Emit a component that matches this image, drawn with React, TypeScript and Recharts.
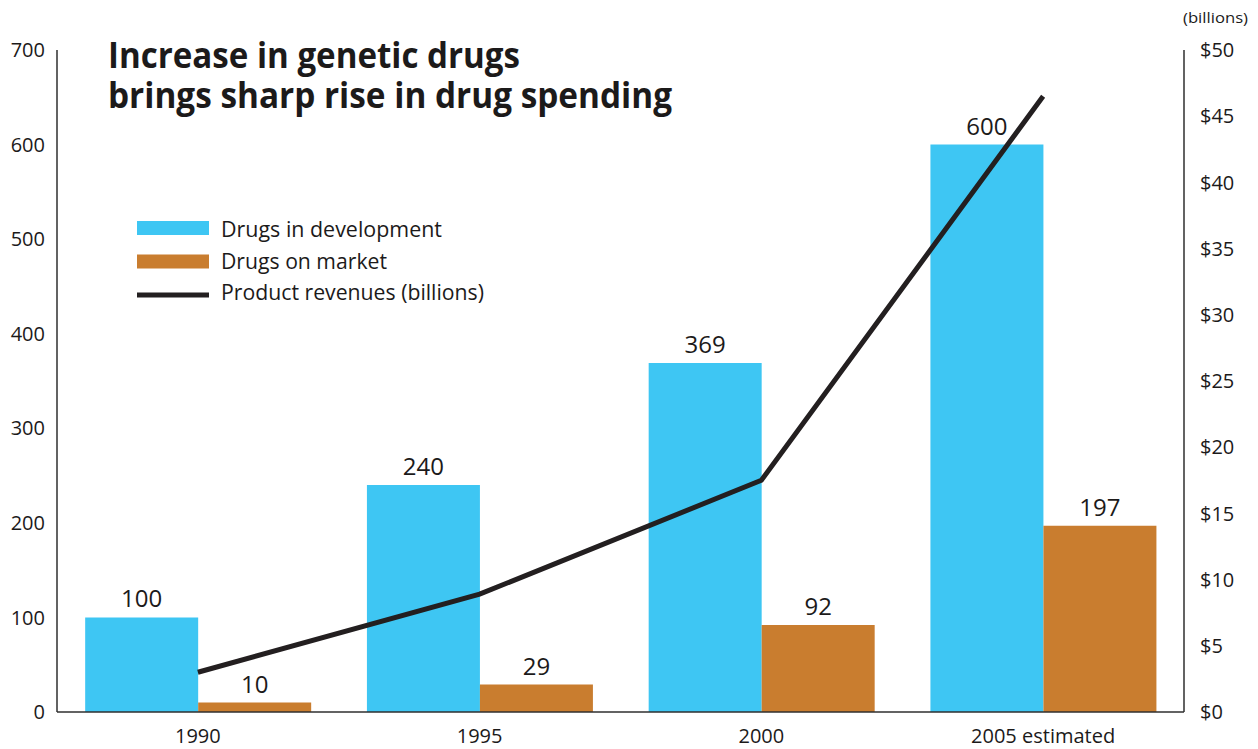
import React from 'react';
import {
  Bar,
  ComposedChart,
  LabelList,
  Legend,
  Line,
  XAxis,
  YAxis,
} from 'recharts';

// values
const years = ['1990', '1995', '2000', '2005 estimated'];
const drugsInDevelopment = [100, 240, 369, 600];
const drugsOnMarket = [10, 29, 92, 197];
const productRevenues = [3.0, 8.9, 17.5, 46.5]; // billions of dollars
const countTicks = [0, 100, 200, 300, 400, 500, 600, 700];
const revenueTicks = [0, 5, 10, 15, 20, 25, 30, 35, 40, 45, 50];

const FONT = "'Open Sans', 'Noto Sans', sans-serif";
const TEXT = '#1c1a1a';
const AXIS = '#2f2f2f';

const data = years.map((year, i) => ({
  year,
  development: drugsInDevelopment[i],
  market: drugsOnMarket[i],
  revenue: productRevenues[i],
}));

const legendWidths = [221, 166, 263];

const renderLegend = ({ payload }: any) => (
  <svg width={360} height={90} style={{ display: 'block', overflow: 'visible' }}>
    {(payload || []).map((entry: any, i: number) => {
      const top = i * 33.5;
      return (
        <g key={entry.value}>
          {entry.type === 'line' ? (
            <rect x={0} y={top + 4.5} width={72} height={5} fill={entry.color} />
          ) : (
            <rect x={0} y={top} width={72} height={14} fill={entry.color} />
          )}
          <text
            x={84}
            y={16 + i * 31.5}
            fontFamily={FONT}
            fontSize={21}
            fill={TEXT}
            textLength={legendWidths[i]}
            lengthAdjust="spacingAndGlyphs"
          >
            {entry.value}
          </text>
        </g>
      );
    })}
  </svg>
);

export default function App() {
  return (
    <div style={{ position: 'absolute', left: 0, top: 0, width: 1258, height: 749, background: '#fff' }}>
      <ComposedChart
        width={1258}
        height={749}
        data={data}
        margin={{ top: 50, right: 0, left: 0, bottom: 0 }}
        barCategoryGap="10%"
        barGap={0}
      >
        <XAxis
          dataKey="year"
          height={37}
          tickLine={false}
          tickSize={0}
          tickMargin={17}
          axisLine={{ stroke: AXIS, strokeWidth: 1.5 }}
          tick={{ fontFamily: FONT, fontSize: 20, fill: TEXT }}
        />
        <YAxis
          yAxisId="left"
          width={57}
          domain={[0, 700]}
          ticks={countTicks}
          tickLine={false}
          tickSize={0}
          tickMargin={12}
          axisLine={{ stroke: AXIS, strokeWidth: 1.5 }}
          tick={{ fontFamily: FONT, fontSize: 20, fill: TEXT }}
        />
        <YAxis
          yAxisId="right"
          orientation="right"
          width={74}
          domain={[0, 50]}
          ticks={revenueTicks}
          tickLine={false}
          tickSize={0}
          tickMargin={16}
          tickFormatter={(v) => `$${v}`}
          axisLine={{ stroke: AXIS, strokeWidth: 1.5 }}
          tick={{ fontFamily: FONT, fontSize: 20, fill: TEXT, textAnchor: 'start' }}
        />
        <Legend
          layout="vertical"
          align="center"
          verticalAlign="middle"
          content={renderLegend}
          wrapperStyle={{ left: 137, top: 221, width: 360, height: 90 }}
        />
        <Bar
          yAxisId="left"
          dataKey="development"
          name="Drugs in development"
          fill="#3ec6f3"
          isAnimationActive={false}
        >
          <LabelList
            dataKey="development"
            position="top"
            offset={10}
            style={{ fontFamily: FONT, fontSize: 24, fill: TEXT }}
          />
        </Bar>
        <Bar
          yAxisId="left"
          dataKey="market"
          name="Drugs on market"
          fill="#c97d2f"
          isAnimationActive={false}
        >
          <LabelList
            dataKey="market"
            position="top"
            offset={10}
            style={{ fontFamily: FONT, fontSize: 24, fill: TEXT }}
          />
        </Bar>
        <Line
          yAxisId="right"
          dataKey="revenue"
          name="Product revenues (billions)"
          type="linear"
          stroke="#231f20"
          strokeWidth={5}
          dot={false}
          activeDot={false}
          legendType="line"
          isAnimationActive={false}
        />
      </ComposedChart>

      {/* title and unit note sit over the chart like in the print graphic */}
      <svg
        width={1258}
        height={120}
        style={{ position: 'absolute', left: 0, top: 0, pointerEvents: 'none' }}
      >
        <text fontFamily={FONT} fontWeight={700} fontSize={35} fill={TEXT}>
          <tspan x={108} y={68} textLength={412} lengthAdjust="spacingAndGlyphs">
            Increase in genetic drugs
          </tspan>
          <tspan x={108} y={108} textLength={564} lengthAdjust="spacingAndGlyphs">
            brings sharp rise in drug spending
          </tspan>
        </text>
        <text x={1183} y={23} fontFamily={FONT} fontSize={15} fill={TEXT}
          textLength={65} lengthAdjust="spacingAndGlyphs">
          (billions)
        </text>
      </svg>
    </div>
  );
}
